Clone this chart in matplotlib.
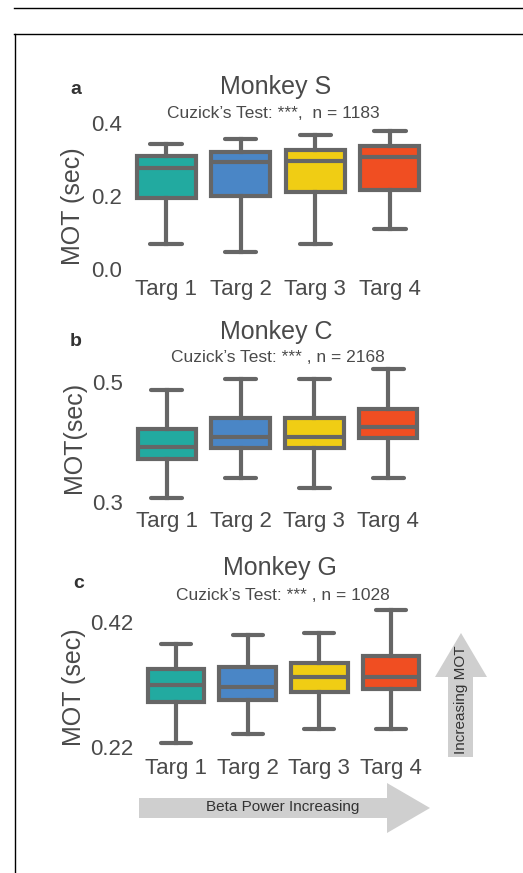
import matplotlib
matplotlib.use("Agg")
import matplotlib.pyplot as plt
from matplotlib.patches import Polygon
from matplotlib.lines import Line2D

plt.rcParams['font.family'] = ['Liberation Sans', 'DejaVu Sans']

# ---------------- data ----------------
categories = ["Targ 1", "Targ 2", "Targ 3", "Targ 4"]
colors = ["#22AAA0", "#4A86C6", "#F0CD14", "#F04E22"]

# Monkey S
s_whislo = [0.068, 0.046, 0.068, 0.110]
s_q1     = [0.195, 0.199, 0.211, 0.217]
s_med    = [0.277, 0.292, 0.295, 0.307]
s_q3     = [0.309, 0.321, 0.327, 0.336]
s_whishi = [0.342, 0.356, 0.368, 0.379]

# Monkey C
c_whislo = [0.307, 0.340, 0.323, 0.340]
c_q1     = [0.372, 0.389, 0.389, 0.406]
c_med    = [0.391, 0.408, 0.408, 0.424]
c_q3     = [0.422, 0.439, 0.439, 0.454]
c_whishi = [0.487, 0.504, 0.504, 0.521]

# Monkey G
g_whislo = [0.226, 0.241, 0.248, 0.249]
g_q1     = [0.292, 0.294, 0.308, 0.313]
g_med    = [0.318, 0.316, 0.331, 0.331]
g_q3     = [0.344, 0.347, 0.354, 0.365]
g_whishi = [0.385, 0.398, 0.402, 0.439]

W, H = 523, 873
fig = plt.figure(figsize=(W / 100, H / 100), dpi=100)


def fx(x):
    return x / W


def fy(y):
    return 1 - y / H


EDGE = "#666666"
TXT = "#4a4a4a"


def panel(rect_px, lo, q1, med, q3, hi, ylim, yticks, yticklabels):
    l, r, t, b = rect_px
    ax = fig.add_axes([fx(l), fy(b), fx(r) - fx(l), fy(t) - fy(b)])
    stats = []
    for i in range(len(categories)):
        stats.append(dict(whislo=lo[i], q1=q1[i], med=med[i], q3=q3[i],
                          whishi=hi[i], fliers=[], label=categories[i]))
    bp = ax.bxp(stats, positions=range(len(categories)), widths=0.79,
                capwidths=0.42, patch_artist=True, showfliers=False,
                boxprops=dict(edgecolor=EDGE, linewidth=3.0),
                medianprops=dict(color=EDGE, linewidth=3.0),
                whiskerprops=dict(color=EDGE, linewidth=3.0),
                capprops=dict(color=EDGE, linewidth=3.0,
                              solid_capstyle='round'))
    for patch, c in zip(bp['boxes'], colors):
        patch.set_facecolor(c)
    ax.set_xlim(-0.5, 3.5)
    ax.set_ylim(*ylim)
    ax.set_yticks(yticks)
    ax.set_yticklabels(yticklabels)
    ax.set_xticks(range(len(categories)))
    ax.set_xticklabels(categories)
    ax.tick_params(axis='both', length=0, colors=TXT)
    ax.tick_params(axis='y', labelsize=16, pad=5)
    ax.tick_params(axis='x', labelsize=16, pad=7)
    for sp in ax.spines.values():
        sp.set_visible(False)
    ax.patch.set_visible(False)
    return ax


panel((128.7, 427.3, 121.2, 269), s_whislo, s_q1, s_med, s_q3, s_whishi,
      (0.0, 0.405), [0.0, 0.2, 0.4], ["0.0", "0.2", "0.4"])
panel((130, 425, 363.7, 501.7), c_whislo, c_q1, c_med, c_q3, c_whishi,
      (0.3, 0.53), [0.3, 0.5], ["0.3", "0.5"])
panel((140, 427, 604.8, 748.6), g_whislo, g_q1, g_med, g_q3, g_whishi,
      (0.217, 0.447), [0.22, 0.42], ["0.22", "0.42"])

# titles, subtitles, labels
titles = ["Monkey S", "Monkey C", "Monkey G"]
subtitles = ["Cuzick\u2019s Test: ***,  n = 1183",
             "Cuzick\u2019s Test: *** , n = 2168",
             "Cuzick\u2019s Test: *** , n = 1028"]
ylabels = ["MOT (sec)", "MOT(sec)", "MOT (sec)"]
letters = ["a", "b", "c"]

title_pos = [(276, 87), (276, 332), (280, 568)]
sub_pos = [(273, 113), (278, 357), (283, 595)]
ylab_pos = [(73, 206), (74, 437), (74, 687)]
let_pos = [(76, 89), (76, 341), (79, 583)]

for i in range(3):
    fig.text(fx(title_pos[i][0]), fy(title_pos[i][1]), titles[i],
             ha='center', va='center', fontsize=18, color=TXT)
    fig.text(fx(sub_pos[i][0]), fy(sub_pos[i][1]), subtitles[i],
             ha='center', va='center', fontsize=12.5, color=TXT)
    fig.text(fx(ylab_pos[i][0]), fy(ylab_pos[i][1]), ylabels[i],
             ha='center', va='center', fontsize=18, color=TXT, rotation=90)
    fig.text(fx(let_pos[i][0]), fy(let_pos[i][1]), letters[i],
             ha='center', va='center', fontsize=14, color="#333333",
             fontweight='bold')

# arrows
ARROW = "#CFCFCF"
harrow = [(139, 798), (387, 798), (387, 783), (430, 808), (387, 833),
          (387, 818), (139, 818)]
fig.patches.append(Polygon([(fx(x), fy(y)) for x, y in harrow], closed=True,
                           transform=fig.transFigure, facecolor=ARROW,
                           edgecolor='none', figure=fig))
varrow = [(448, 757), (448, 677), (435, 677), (461, 633), (487, 677),
          (473, 677), (473, 757)]
fig.patches.append(Polygon([(fx(x), fy(y)) for x, y in varrow], closed=True,
                           transform=fig.transFigure, facecolor=ARROW,
                           edgecolor='none', figure=fig))
fig.text(fx(283), fy(807), "Beta Power Increasing", ha='center', va='center',
         fontsize=11, color="#333333")
fig.text(fx(461), fy(700), "Increasing MOT", ha='center', va='center',
         fontsize=11, color="#333333", rotation=90)

# frame lines
fig.lines.append(Line2D([fx(14), fx(523)], [fy(8.3), fy(8.3)],
                        transform=fig.transFigure, color='black', lw=1.0))
fig.lines.append(Line2D([fx(14), fx(523)], [fy(34), fy(34)],
                        transform=fig.transFigure, color='black', lw=1.0))
fig.lines.append(Line2D([fx(14.5), fx(14.5)], [fy(34), fy(873)],
                        transform=fig.transFigure, color='black', lw=1.0))

fig.savefig("out.png", dpi=100)
